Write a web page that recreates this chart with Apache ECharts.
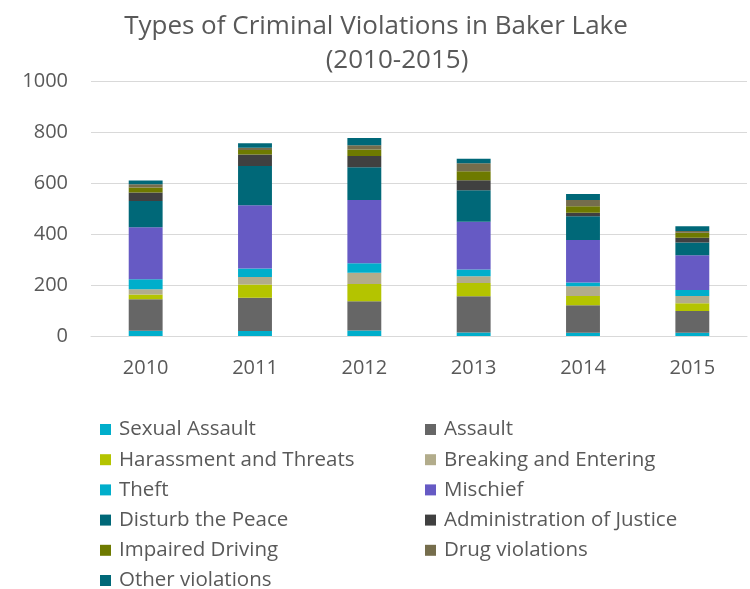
<!DOCTYPE html>
<html>
<head>
<meta charset="utf-8">
<script src="https://cdn.jsdelivr.net/npm/echarts@6/dist/echarts.min.js"></script>
<style>
html,body{margin:0;padding:0;background:#fff;}
#chart{width:750px;height:589px;}
</style>
</head>
<body>
<div id="chart"></div>
<script>
var years = ['2010', '2011', '2012', '2013', '2014', '2015'];
var sexualAssault = [21, 20, 22, 14, 13, 13];
var assault = [123, 130, 114, 142, 108, 85];
var harassment = [19, 52, 68, 52, 36, 30];
var breaking = [20, 29, 44, 26, 38, 29];
var theft = [40, 34, 37, 27, 15, 23];
var mischief = [203, 248, 248, 187, 166, 137];
var disturb = [103, 154, 129, 124, 94, 50];
var adminJustice = [34, 45, 44, 39, 13, 18];
var impaired = [19, 17, 25, 35, 26, 20];
var drug = [13, 9, 17, 31, 24, 7];
var other = [15, 18, 28, 18, 24, 18];
var yTicks = [0, 200, 400, 600, 800, 1000];

var seriesDefs = [
  ['Sexual Assault', sexualAssault, '#00AECB'],
  ['Assault', assault, '#666666'],
  ['Harassment and Threats', harassment, '#B4C400'],
  ['Breaking and Entering', breaking, '#B2AC8B'],
  ['Theft', theft, '#00AECB'],
  ['Mischief', mischief, '#665AC4'],
  ['Disturb the Peace', disturb, '#006878'],
  ['Administration of Justice', adminJustice, '#404040'],
  ['Impaired Driving', impaired, '#6E7A00'],
  ['Drug violations', drug, '#756D4C'],
  ['Other violations', other, '#006878']
];

var chart = echarts.init(document.getElementById('chart'), null, {renderer: 'canvas'});
var font = 'Open Sans';
var txt = '#595959';
var legendText = {color: txt, fontFamily: font, fontSize: 20.5, lineHeight: 20, padding: [0, 0, 0, 3]};
var titleText = {color: txt, fontFamily: font, fontSize: 26, fontWeight: 'normal', lineHeight: 34};

chart.setOption({
  animation: false,
  backgroundColor: '#ffffff',
  title: [
    {text: 'Types of Criminal Violations in Baker Lake', left: 376, top: 10, textAlign: 'center', padding: 0, textStyle: titleText},
    {text: '(2010-2015)', left: 397, top: 44, textAlign: 'center', padding: 0, textStyle: titleText}
  ],
  legend: [
    {
      orient: 'vertical', left: 100, top: 419, height: 190, padding: 0, itemWidth: 11, itemHeight: 11, itemGap: 9.2,
      icon: 'rect', textStyle: legendText,
      data: ['Sexual Assault', 'Harassment and Threats', 'Theft', 'Disturb the Peace', 'Impaired Driving', 'Other violations']
    },
    {
      orient: 'vertical', left: 425, top: 419, height: 190, padding: 0, itemWidth: 11, itemHeight: 11, itemGap: 9.2,
      icon: 'rect', textStyle: legendText,
      data: ['Assault', 'Breaking and Entering', 'Mischief', 'Administration of Justice', 'Drug violations']
    }
  ],
  grid: {left: 91, right: 3, top: 81, height: 255, containLabel: false},
  xAxis: {
    type: 'category',
    data: years,
    axisLine: {lineStyle: {color: '#D9D9D9', width: 1}},
    axisTick: {show: false},
    axisLabel: {color: txt, fontFamily: font, fontSize: 20, margin: 22}
  },
  yAxis: {
    type: 'value', min: 0, max: 1000, interval: 200,
    axisLine: {show: false},
    axisTick: {show: false},
    splitLine: {lineStyle: {color: '#D9D9D9', width: 1}},
    axisLabel: {color: txt, fontFamily: font, fontSize: 20, margin: 23,
      formatter: function (v) { return yTicks.indexOf(v) >= 0 ? String(v) : ''; }}
  },
  series: seriesDefs.map(function (d) {
    return {
      name: d[0], type: 'bar', stack: 'total', data: d[1], barWidth: '31%',
      itemStyle: {color: d[2]}
    };
  })
});
</script>
</body>
</html>
